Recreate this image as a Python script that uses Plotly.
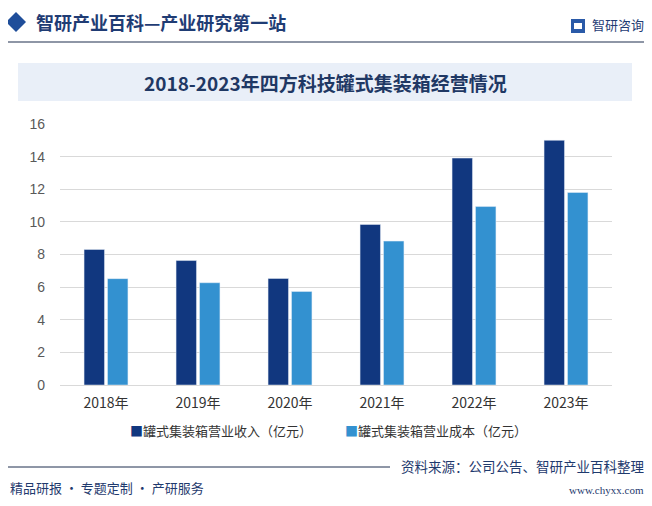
import plotly.graph_objects as go

years = ["2018年", "2019年", "2020年", "2021年", "2022年", "2023年"]
revenue = [8.31, 7.63, 6.53, 9.84, 13.91, 15.0]
cost = [6.52, 6.27, 5.73, 8.82, 10.94, 11.80]
series_names = ["罐式集装箱营业收入（亿元）", "罐式集装箱营业成本（亿元）"]
y_ticks = [0, 2, 4, 6, 8, 10, 12, 14, 16]

DARK = "#11377f"
LIGHT = "#3391d0"
CJK = "Noto Sans CJK SC"

# page body has an 8px margin: figure pixel = reference pixel - 8
def px(X):
    return (X - 60) / 552

def py(Y):
    return (385 - Y) / 261

fig = go.Figure()
fig.add_trace(go.Bar(x=years, y=revenue, name=series_names[0], marker_color=DARK))
fig.add_trace(go.Bar(x=years, y=cost, name=series_names[1], marker_color=LIGHT))

fig.update_layout(
    width=652, height=506,
    margin=dict(l=52, r=48, t=116, b=129),
    paper_bgcolor="white", plot_bgcolor="white",
    barmode="group", bargap=0.49, bargroupgap=0.13,
    showlegend=False,
    xaxis=dict(showgrid=False, showline=True, linecolor="#d9d9d9", ticks="",
               ticklabelstandoff=5,
               tickfont=dict(family=CJK, size=14, color="#333333")),
    yaxis=dict(range=[0, 16], tickvals=y_ticks, showgrid=True, gridcolor="#d9d9d9",
               zeroline=False, ticks="", ticklen=0, ticklabelstandoff=14,
               tickfont=dict(family="Liberation Sans", size=14, color="#595959")),
    shapes=[
        dict(type="rect", xref="paper", yref="paper", x0=px(18), x1=px(632),
             y0=py(101), y1=py(63),
             fillcolor="#e9eff8", line=dict(width=0), layer="below"),
        dict(type="line", xref="paper", yref="paper", x0=px(3), x1=px(645),
             y0=py(42), y1=py(42), line=dict(color="#1f2f4f", width=1.2)),
        dict(type="line", xref="paper", yref="paper", x0=px(0), x1=px(390),
             y0=py(467), y1=py(467), line=dict(color="#1f2f4f", width=1)),
        dict(type="path", xref="paper", yref="paper",
             path="M {0},{1} L {2},{3} L {0},{4} L {5},{3} Z".format(
                 px(16), py(12), px(26), py(22), py(32), px(6)),
             fillcolor="#1f4e9a", line=dict(width=0)),
        dict(type="rect", xref="paper", yref="paper", x0=px(571), x1=px(585),
             y0=py(33), y1=py(19), fillcolor="#2a5aa8", line=dict(width=0)),
        dict(type="rect", xref="paper", yref="paper", x0=px(574), x1=px(582),
             y0=py(29), y1=py(23), fillcolor="white", line=dict(width=0)),
    ],
    annotations=[
        dict(text="<b>2018-2023年四方科技罐式集装箱经营情况</b>", xref="paper", yref="paper",
             x=px(325), y=py(82), xanchor="center", yanchor="middle",
             showarrow=False, font=dict(family=CJK, size=19, color="#1f3864")),
        dict(text="<b>智研产业百科—产业研究第一站</b>", xref="paper", yref="paper",
             x=px(34), y=py(22), xanchor="left", yanchor="middle",
             showarrow=False, font=dict(family=CJK, size=18, color="#1f3c74")),
        dict(text="智研咨询", xref="paper", yref="paper",
             x=px(646), y=py(25), xanchor="right", yanchor="middle",
             showarrow=False, font=dict(family=CJK, size=13, color="#1f3c74")),
        dict(text="<span style='color:%s'>■</span>%s" % (DARK, series_names[0]),
             xref="paper", yref="paper", x=px(128), y=py(430), xanchor="left", yanchor="middle",
             showarrow=False, font=dict(family=CJK, size=13, color="#333333")),
        dict(text="<span style='color:%s'>■</span>%s" % (LIGHT, series_names[1]),
             xref="paper", yref="paper", x=px(343), y=py(430), xanchor="left", yanchor="middle",
             showarrow=False, font=dict(family=CJK, size=13, color="#333333")),
        dict(text="资料来源：公司公告、智研产业百科整理", xref="paper", yref="paper",
             x=px(646), y=py(466), xanchor="right", yanchor="middle",
             showarrow=False, font=dict(family=CJK, size=13.5, color="#1f3a6e")),
        dict(text="精品研报 · 专题定制 · 产研服务", xref="paper", yref="paper",
             x=px(8), y=py(487), xanchor="left", yanchor="middle",
             showarrow=False, font=dict(family=CJK, size=13, color="#1f3a6e")),
        dict(text="www.chyxx.com", xref="paper", yref="paper",
             x=px(646), y=py(490), xanchor="right", yanchor="middle",
             showarrow=False, font=dict(family="Liberation Serif", size=11, color="#1f3a6e")),
    ],
)

fig.write_html("out.html")
